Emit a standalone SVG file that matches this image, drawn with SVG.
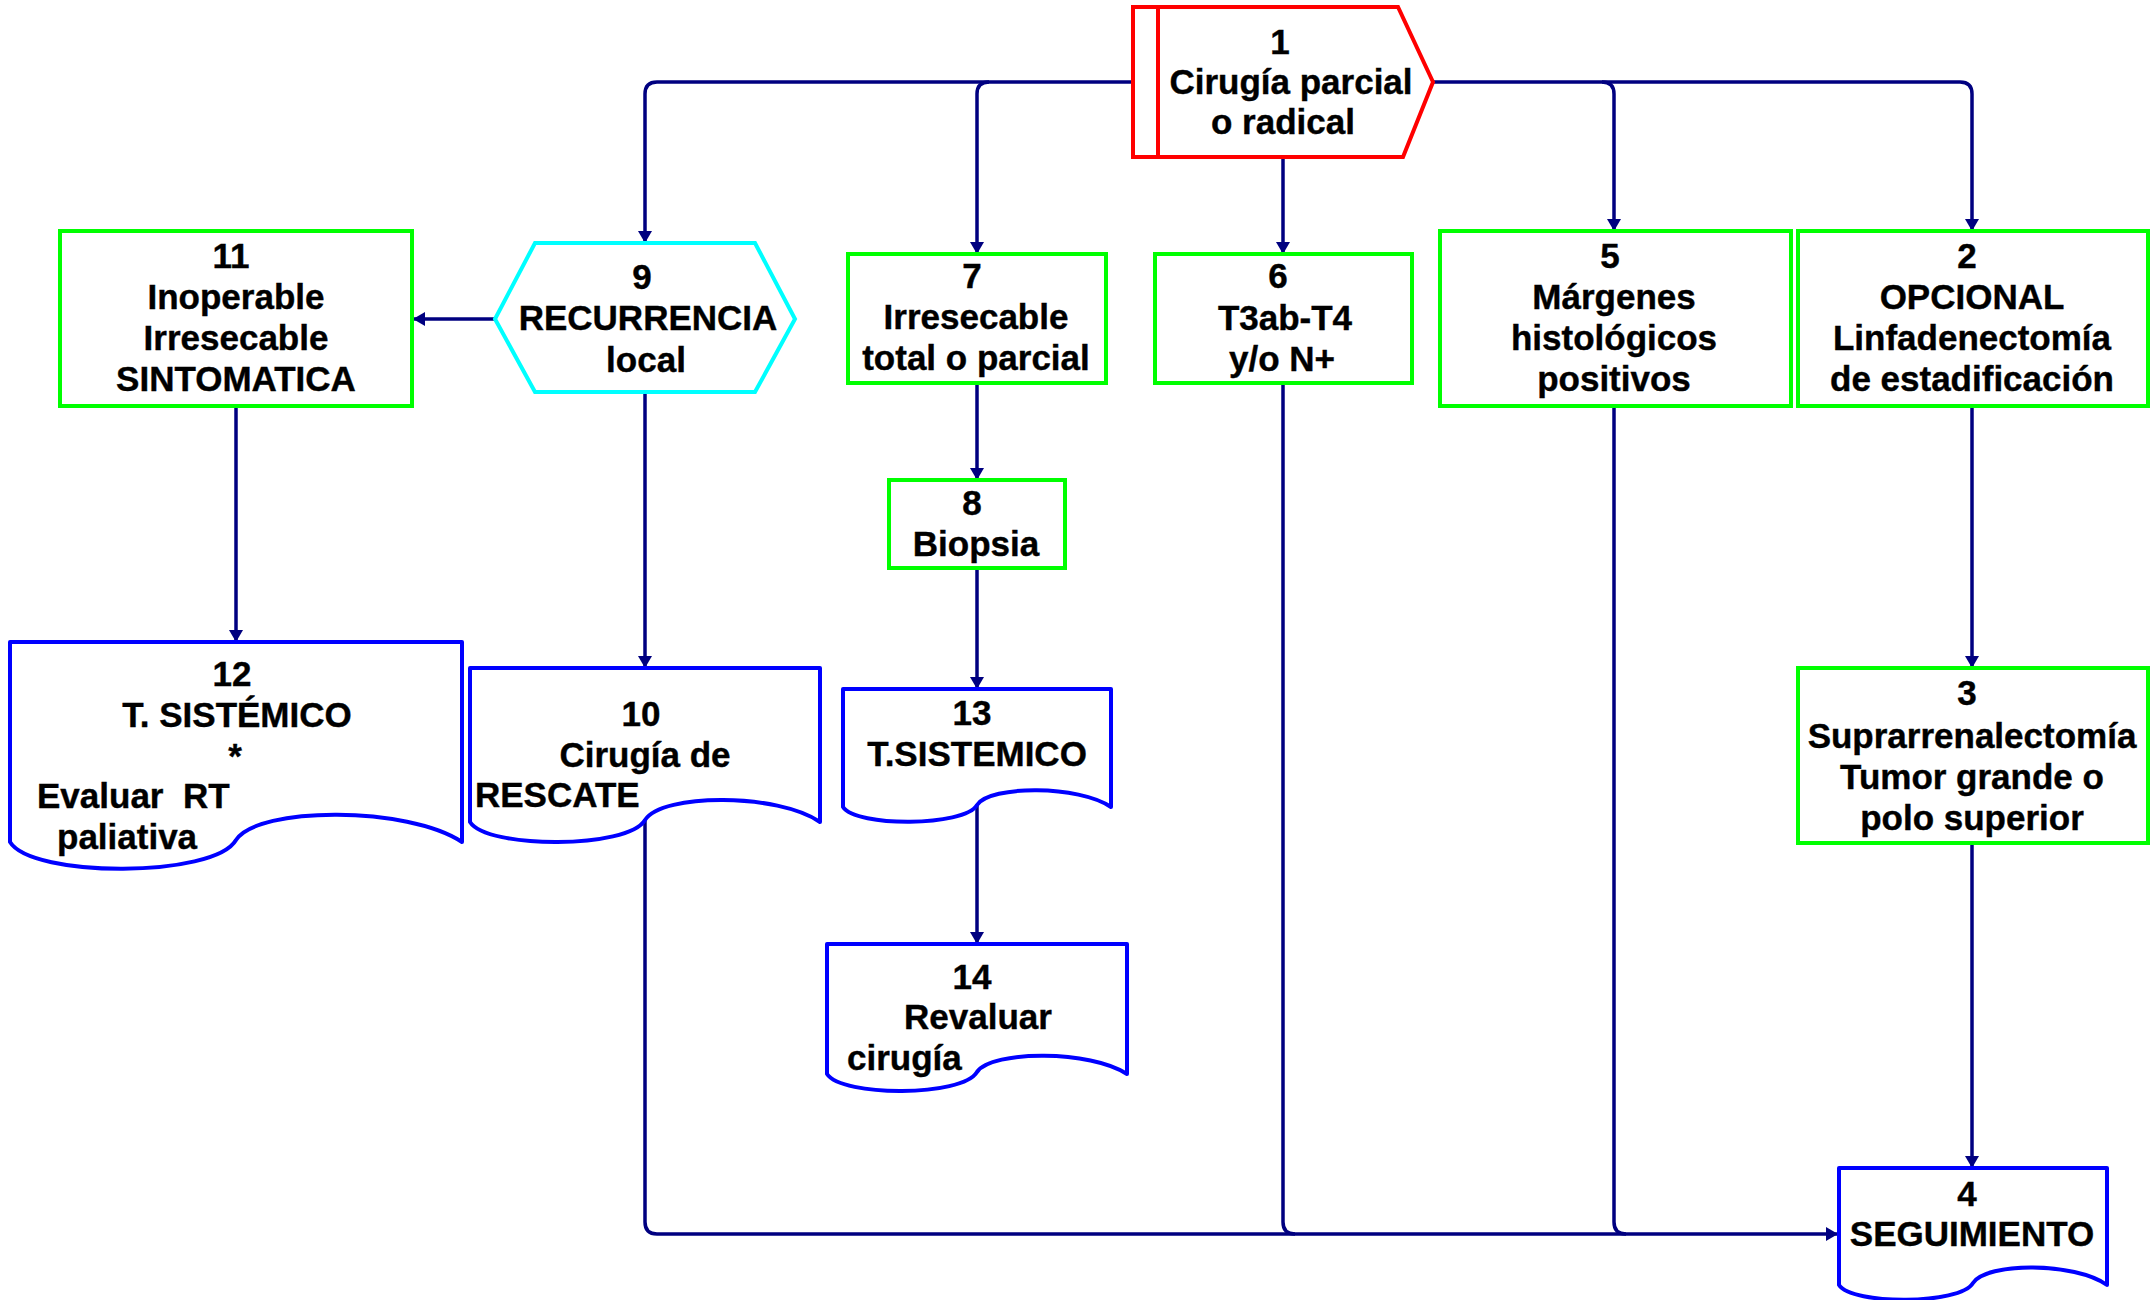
<svg xmlns="http://www.w3.org/2000/svg" width="2152" height="1300" viewBox="0 0 2152 1300">
<style>
text{font-family:"Liberation Sans",Arial,sans-serif;font-weight:bold;font-size:35px;fill:#000;text-anchor:middle;stroke:#000;stroke-width:0.4}
text.l{text-anchor:start;white-space:pre}
.red{fill:#fff;stroke:#ff0000;stroke-width:4}
.grn{fill:#fff;stroke:#00ff00;stroke-width:4}
.cyn{fill:#fff;stroke:#00ffff;stroke-width:4}
.doc{fill:#fff;stroke:#0000ff;stroke-width:4;stroke-linejoin:round}
.con{fill:none;stroke:#000080;stroke-width:3.5}
.arr{marker-end:url(#ah)}
</style>
<defs>
<marker id="ah" markerUnits="userSpaceOnUse" markerWidth="14" markerHeight="14" refX="12" refY="7" orient="auto">
<path d="M0,0 L12,7 L0,14 z" fill="#000080"/>
</marker>
</defs>
<rect width="2152" height="1300" fill="#fff"/>
<g id="connectors">
<path class="con arr" d="M1133,82 H657 Q645,82 645,94 V243"/>
<path class="con arr" d="M989,82 Q977,82 977,94 V254"/>
<path class="con arr" d="M1283,157 V254"/>
<path class="con arr" d="M1433,82 H1960 Q1972,82 1972,94 V231"/>
<path class="con arr" d="M1602,82 Q1614,82 1614,94 V231"/>
<path class="con arr" d="M495,319 H413"/>
<path class="con arr" d="M236,407 V642"/>
<path class="con arr" d="M645,392 V668"/>
<path class="con arr" d="M977,383 V480"/>
<path class="con arr" d="M977,568 V689"/>
<path class="con arr" d="M977,803 V944"/>
<path class="con arr" d="M1972,406 V668"/>
<path class="con arr" d="M1972,843 V1168"/>
<path class="con arr" d="M645,820 V1222 Q645,1234 657,1234 H1838"/>
<path class="con" d="M1283,383 V1222 Q1283,1234 1295,1234"/>
<path class="con" d="M1614,406 V1222 Q1614,1234 1626,1234"/>
</g>
<g id="node1">
<path class="red" d="M1133,7 H1398 L1433,82 L1403,157 H1133 Z"/>
<line x1="1158" y1="7" x2="1158" y2="157" stroke="#ff0000" stroke-width="4"/>
<text x="1280" y="54">1</text>
<text x="1291" y="94">Cirugía parcial</text>
<text x="1283" y="134">o radical</text>
</g>
<g id="node11">
<rect class="grn" x="60" y="231" width="352" height="175"/>
<text x="231" y="268">11</text>
<text x="236" y="309">Inoperable</text>
<text x="236" y="350">Irresecable</text>
<text x="236" y="391">SINTOMATICA</text>
</g>
<g id="node9">
<path class="cyn" d="M535,243 H755 L795,319 L755,392 H535 L495,319 Z"/>
<text x="642" y="289">9</text>
<text x="648" y="330">RECURRENCIA</text>
<text x="646" y="372">local</text>
</g>
<g id="node7">
<rect class="grn" x="848" y="254" width="258" height="129"/>
<text x="972" y="288">7</text>
<text x="976" y="329">Irresecable</text>
<text x="976" y="370">total o parcial</text>
</g>
<g id="node6">
<rect class="grn" x="1155" y="254" width="257" height="129"/>
<text x="1278" y="288">6</text>
<text x="1285" y="330">T3ab-T4</text>
<text x="1282" y="371">y/o N+</text>
</g>
<g id="node5">
<rect class="grn" x="1440" y="231" width="351" height="175"/>
<text x="1610" y="268">5</text>
<text x="1614" y="309">Márgenes</text>
<text x="1614" y="350">histológicos</text>
<text x="1614" y="391">positivos</text>
</g>
<g id="node2">
<rect class="grn" x="1798" y="231" width="350" height="175"/>
<text x="1967" y="268">2</text>
<text x="1972" y="309">OPCIONAL</text>
<text x="1972" y="350">Linfadenectomía</text>
<text x="1972" y="391">de estadificación</text>
</g>
<g id="node8">
<rect class="grn" x="889" y="480" width="176" height="88"/>
<text x="972" y="515">8</text>
<text x="976" y="556">Biopsia</text>
</g>
<g id="node12">
<path class="doc" d="M10,642 H462 V842 C408,806 258,806 236,840 C214,878 32,878 10,842 Z"/>
<text x="232" y="686">12</text>
<text x="237" y="727">T. SISTÉMICO</text>
<text x="235" y="768">*</text>
<text class="l" x="37" y="808">Evaluar  RT</text>
<text class="l" x="57" y="849">paliativa</text>
</g>
<g id="node10">
<path class="doc" d="M470,668 H820 V822 C778,793 662,793 645,820 C628,849 487,849 470,822 Z"/>
<text x="641" y="726">10</text>
<text x="645" y="767">Cirugía de</text>
<text class="l" x="475" y="807">RESCATE</text>
</g>
<g id="node13">
<path class="doc" d="M843,689 H1111 V807 C1079,785 990,785 977,805 C964,827 856,827 843,807 Z"/>
<text x="972" y="725">13</text>
<text x="977" y="766">T.SISTEMICO</text>
</g>
<g id="node14">
<path class="doc" d="M827,944 H1127 V1074 C1091,1050 992,1050 977,1072 C962,1097 842,1097 827,1074 Z"/>
<text x="972" y="989">14</text>
<text x="978" y="1029">Revaluar</text>
<text class="l" x="847" y="1070">cirugía</text>
</g>
<g id="node3">
<rect class="grn" x="1798" y="668" width="350" height="175"/>
<text x="1967" y="705">3</text>
<text x="1972" y="748">Suprarrenalectomía</text>
<text x="1972" y="789">Tumor grande o</text>
<text x="1972" y="830">polo superior</text>
</g>
<g id="node4">
<path class="doc" d="M1839,1168 H2107 V1285 C2075,1262 1986,1262 1973,1283 C1960,1305 1852,1305 1839,1285 Z"/>
<text x="1967" y="1206">4</text>
<text x="1972" y="1246">SEGUIMIENTO</text>
</g>
</svg>
